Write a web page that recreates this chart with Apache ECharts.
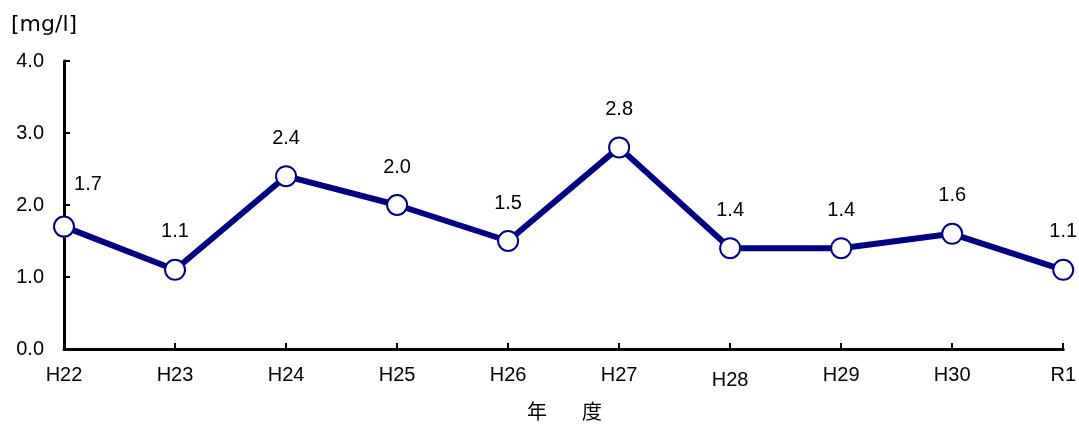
<!DOCTYPE html>
<html><head><meta charset="utf-8">
<script src="https://cdn.jsdelivr.net/npm/echarts@6/dist/echarts.min.js"></script>
<style>html,body{margin:0;padding:0;background:#fff}#c{width:1079px;height:427px}</style>
</head><body><div id="c"></div>
<script>
const categories = ['H22','H23','H24','H25','H26','H27','H28','H29','H30','R1'];
const values = [1.7,1.1,2.4,2.0,1.5,2.8,1.4,1.4,1.6,1.1];
const yTicks = [0,1,2,3,4];
const chart = echarts.init(document.getElementById('c'));
const font = '"Liberation Sans", Arial, sans-serif';
const cjk = '"Noto Sans CJK JP", sans-serif';
chart.setOption({
  animation:false,
  backgroundColor:'#fff',
  grid:{left:64,right:14,top:61,bottom:78,containLabel:false},
  graphic:[
    {type:'text',left:11,top:14,style:{text:'[mg/l]',font:'22px "DejaVu Sans", sans-serif',fill:'#000'}},
    {type:'text',left:527,top:401,style:{text:'年',font:'20px '+cjk,fill:'#000'}},
    {type:'text',left:582,top:401,style:{text:'度',font:'20px '+cjk,fill:'#000'}}
  ],
  xAxis:{type:'category',boundaryGap:false,
    data:categories.map(c=>c==='H28'?{value:c,textStyle:{padding:[5,0,0,0]}}:c),
    axisLine:{lineStyle:{color:'#000',width:3}},
    axisTick:{inside:true,length:6,lineStyle:{color:'#000',width:2},alignWithLabel:true},
    axisLabel:{color:'#000',fontSize:20,fontFamily:font,margin:16}
  },
  yAxis:{type:'value',min:yTicks[0],max:yTicks[yTicks.length-1],interval:1,
    splitLine:{show:false},
    axisLine:{show:true,lineStyle:{color:'#000',width:3}},
    axisTick:{show:true,inside:true,length:6,lineStyle:{color:'#000',width:2}},
    axisLabel:{color:'#000',fontSize:20,fontFamily:font,margin:20,formatter:v=>v.toFixed(1)}
  },
  series:[{type:'line',symbol:'circle',symbolSize:20,
    data:values.map((v,i)=>i===0?{value:v,label:{offset:[24,-4]}}:v),
    lineStyle:{color:'#000080',width:6},
    itemStyle:{color:'#fff',borderColor:'#000080',borderWidth:2},
    label:{show:true,position:'top',distance:17,color:'#000',fontSize:20,fontFamily:font,formatter:p=>p.value.toFixed(1)}
  }]
});
</script></body></html>
